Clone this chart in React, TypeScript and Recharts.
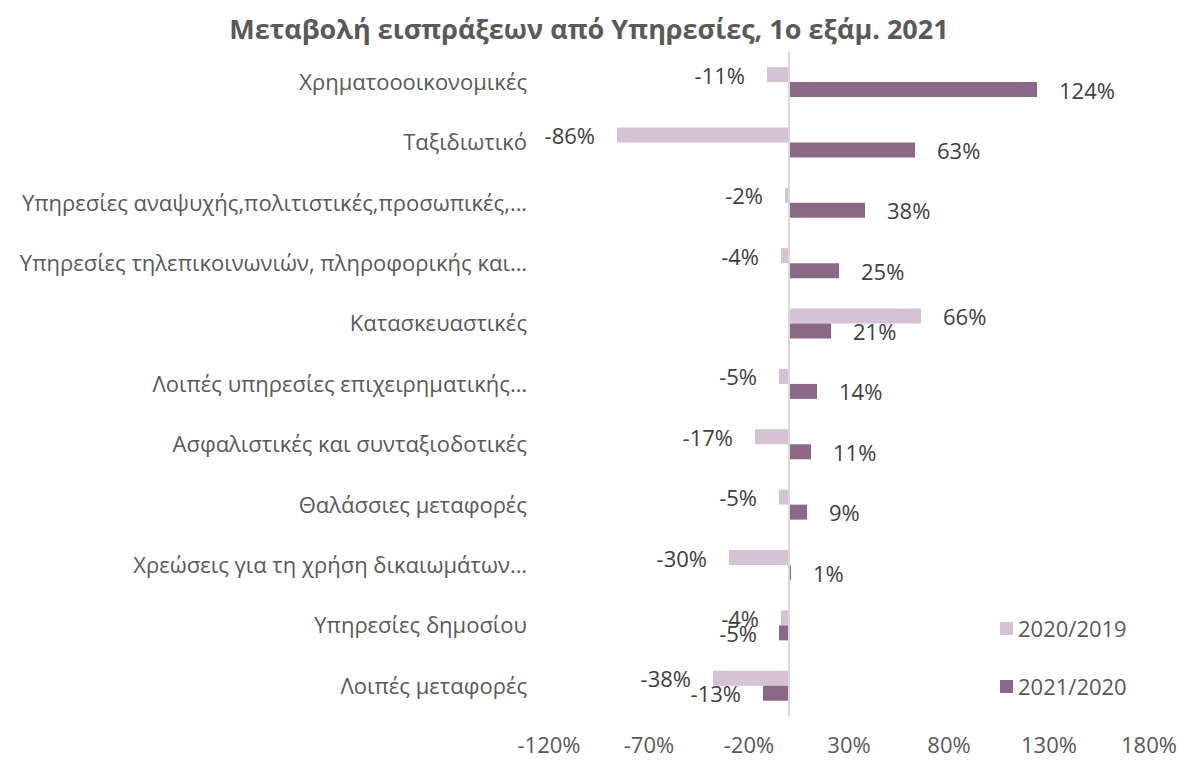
import { BarChart, Bar, XAxis, YAxis, ReferenceLine, LabelList } from 'recharts';

const categories = [
  'Χρηματοοοικονομικές',
  'Ταξιδιωτικό',
  'Υπηρεσίες αναψυχής,πολιτιστικές,προσωπικές,…',
  'Υπηρεσίες τηλεπικοινωνιών, πληροφορικής και…',
  'Κατασκευαστικές',
  'Λοιπές υπηρεσίες επιχειρηματικής…',
  'Ασφαλιστικές και συνταξιοδοτικές',
  'Θαλάσσιες μεταφορές',
  'Χρεώσεις για τη χρήση δικαιωμάτων…',
  'Υπηρεσίες  δημοσίου',
  'Λοιπές μεταφορές',
];

const change2020 = [-11, -86, -2, -4, 66, -5, -17, -5, -30, -4, -38];
const change2021 = [124, 63, 38, 25, 21, 14, 11, 9, 1, -5, -13];

const xTicks = [-120, -70, -20, 30, 80, 130, 180];

const data = categories.map((name, i) => ({
  name,
  a: change2020[i],
  b: change2021[i],
}));

const LIGHT = '#D3C3D3';
const DARK = '#8B6887';
const TEXT = '#404040';
const AXIS_TEXT = '#595959';
const FONT = '"Open Sans", sans-serif';

const renderLabel = (props: any) => {
  const { x, y, width, height, value } = props;
  const left = Math.min(x, x + width);
  const right = Math.max(x, x + width);
  const pos = value >= 0;
  return (
    <text
      x={pos ? right + 22 : left - 22}
      y={y + height / 2}
      textAnchor={pos ? 'start' : 'end'}
      dominantBaseline="central"
      fill={TEXT}
      fontSize={22}
      fontFamily={FONT}
    >
      {value}%
    </text>
  );
};

export default function App() {
  return (
    <div style={{ position: 'absolute', left: 0, top: 0, width: 1178, height: 761, background: '#fff', fontFamily: FONT }}>
      <div
        style={{
          position: 'absolute',
          top: 10,
          left: 0,
          width: 1178,
          textAlign: 'center',
          fontSize: 27,
          fontWeight: 700,
          color: AXIS_TEXT,
        }}
      >
        Μεταβολή εισπράξεων από Υπηρεσίες, 1ο εξάμ. 2021
      </div>
      <BarChart
        width={1178}
        height={761}
        data={data}
        layout="vertical"
        margin={{ top: 52, right: 29, bottom: 0, left: 0 }}
        barCategoryGap="25%"
        barGap={0}
      >
        <XAxis
          type="number"
          domain={[-120, 180]}
          ticks={xTicks}
          tickFormatter={(v) => `${v}%`}
          axisLine={false}
          tickLine={false}
          height={45}
          tickMargin={15}
          tick={{ fill: AXIS_TEXT, fontSize: 22, fontFamily: FONT }}
        />
        <YAxis
          type="category"
          dataKey="name"
          width={549}
          axisLine={false}
          tickLine={false}
          tickMargin={16}
          interval={0}
          tick={{ fill: AXIS_TEXT, fontSize: 22, fontFamily: FONT }}
        />
        <Bar dataKey="a" name="2020/2019" fill={LIGHT} isAnimationActive={false}>
          <LabelList dataKey="a" content={renderLabel} />
        </Bar>
        <Bar dataKey="b" name="2021/2020" fill={DARK} isAnimationActive={false}>
          <LabelList dataKey="b" content={renderLabel} />
        </Bar>
        <ReferenceLine x={0} stroke="#D9D9D9" strokeWidth={2} />
      </BarChart>
      {[
        { label: '2020/2019', color: LIGHT, top: 628 },
        { label: '2021/2020', color: DARK, top: 686 },
      ].map((item) => (
        <div
          key={item.label}
          style={{
            position: 'absolute',
            left: 1000,
            top: item.top - 15,
            height: 30,
            display: 'flex',
            alignItems: 'center',
            fontSize: 22,
            color: AXIS_TEXT,
          }}
        >
          <span style={{ width: 13, height: 13, background: item.color, marginRight: 5, display: 'inline-block' }} />
          {item.label}
        </div>
      ))}
    </div>
  );
}
